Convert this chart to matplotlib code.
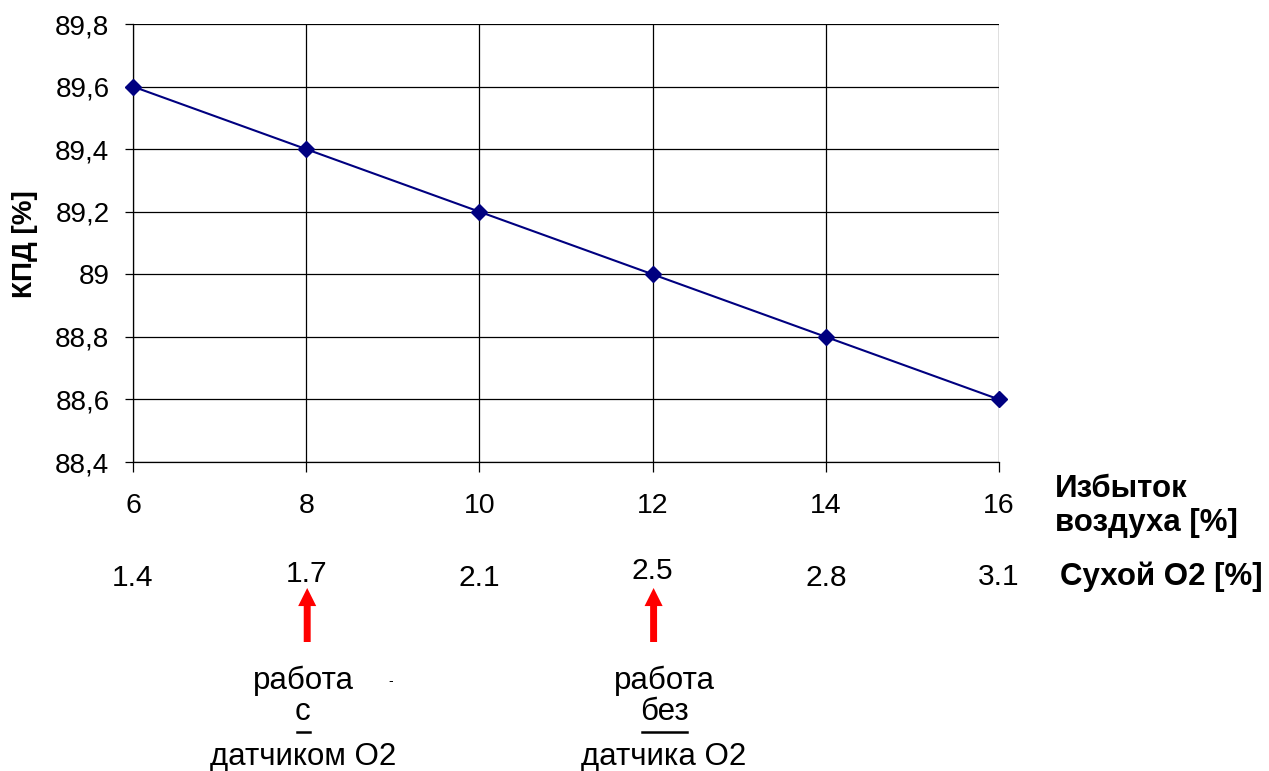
import matplotlib
matplotlib.use("Agg")
import matplotlib.pyplot as plt
from matplotlib.ticker import FuncFormatter
from matplotlib.lines import Line2D

plt.rcParams['font.family'] = ['Liberation Sans', 'DejaVu Sans']

# избыток воздуха и КПД
excess_air = [6, 8, 10, 12, 14, 16]
efficiency = [89.6, 89.4, 89.2, 89.0, 88.8, 88.6]
# сухой O2 для тех же точек
dry_o2 = ['1.4', '1.7', '2.1', '2.5', '2.8', '3.1']
o2_rows = [578, 574, 578, 571, 578, 577]   # вертикальное положение подписей, px сверху
arrow_at = [8, 12]
notes = [('работа', 'с', 'датчиком O2'), ('работа', 'без', 'датчика O2')]
note_x = [303, 664]

W, H = 1269, 771
fig = plt.figure(figsize=(W / 100, H / 100), dpi=100)
ax = fig.add_axes([133 / W, 1 - 462 / H, (999 - 133) / W, (462 - 24) / H])

ax.plot(excess_air, efficiency, color='#000080', lw=1.5, marker='D',
        markersize=8, markerfacecolor='#000080', markeredgecolor='#000080',
        zorder=3, clip_on=False)

ax.set_xlim(6, 16)
ax.set_ylim(88.4, 89.8)
ax.set_xticks(excess_air)
ax.set_yticks([88.4, 88.6, 88.8, 89.0, 89.2, 89.4, 89.6, 89.8])
ax.yaxis.set_major_formatter(FuncFormatter(lambda v, p: ('%g' % round(v, 1)).replace('.', ',')))
ax.grid(True, color='black', lw=0.9)
ax.set_axisbelow(True)
for s in ['top', 'right']:
    ax.spines[s].set_visible(False)
for s in ['left', 'bottom']:
    ax.spines[s].set_linewidth(0.9)
ax.tick_params(axis='x', length=7, width=0.9, pad=15, labelsize=20.5)
ax.tick_params(axis='y', length=6, width=0.9, pad=11, labelsize=20)

def fx(px):
    return px / W

def fy(py):
    return 1 - py / H

fig.text(fx(25), fy(244), 'КПД [%]', rotation=90, ha='center', va='center',
         fontsize=20, fontweight='bold')
fig.text(fx(1055), fy(506), 'Избыток\nвоздуха [%]', ha='left', va='center',
         fontsize=22.5, fontweight='bold', linespacing=1.2)
fig.text(fx(1060), fy(577), 'Сухой O2 [%]', ha='left', va='center',
         fontsize=22.5, fontweight='bold')

# вторая шкала: сухой O2 под основной осью
for xv, lab, row in zip(excess_air, dry_o2, o2_rows):
    xp = ax.transData.transform((xv, 89.0))[0]
    fig.text(xp / W, fy(row), lab, ha='center', va='center', fontsize=21.5)

for xv in arrow_at:
    xp = ax.transData.transform((xv, 89.0))[0] + 1
    ax.annotate('', xy=(xp, H - 588), xytext=(xp, H - 642),
                xycoords='figure pixels', textcoords='figure pixels',
                arrowprops=dict(arrowstyle='simple,head_length=0.65,head_width=0.65,tail_width=0.25',
                                color='#ff0000', lw=0, shrinkA=0, shrinkB=0,
                                mutation_scale=20),
                annotation_clip=False)

texts = []
for cx, (l1, l2, l3) in zip(note_x, notes):
    fig.text(fx(cx), fy(681), l1, ha='center', va='center', fontsize=22.5)
    t = fig.text(fx(cx), fy(712), l2, ha='center', va='center', fontsize=22.5)
    fig.text(fx(cx), fy(757), l3, ha='center', va='center', fontsize=22.5)
    texts.append(t)
fig.text(fx(391), fy(681), '-', ha='center', va='center', fontsize=10)

# подчёркивание среднего слова
fig.canvas.draw()
r = fig.canvas.get_renderer()
for t in texts:
    bb = t.get_window_extent(r)
    fig.add_artist(Line2D([(bb.x0 + 2) / W, (bb.x1 - 1) / W], [fy(732), fy(732)],
                          transform=fig.transFigure, color='black', lw=1.8))

fig.savefig('out.png', dpi=100)
